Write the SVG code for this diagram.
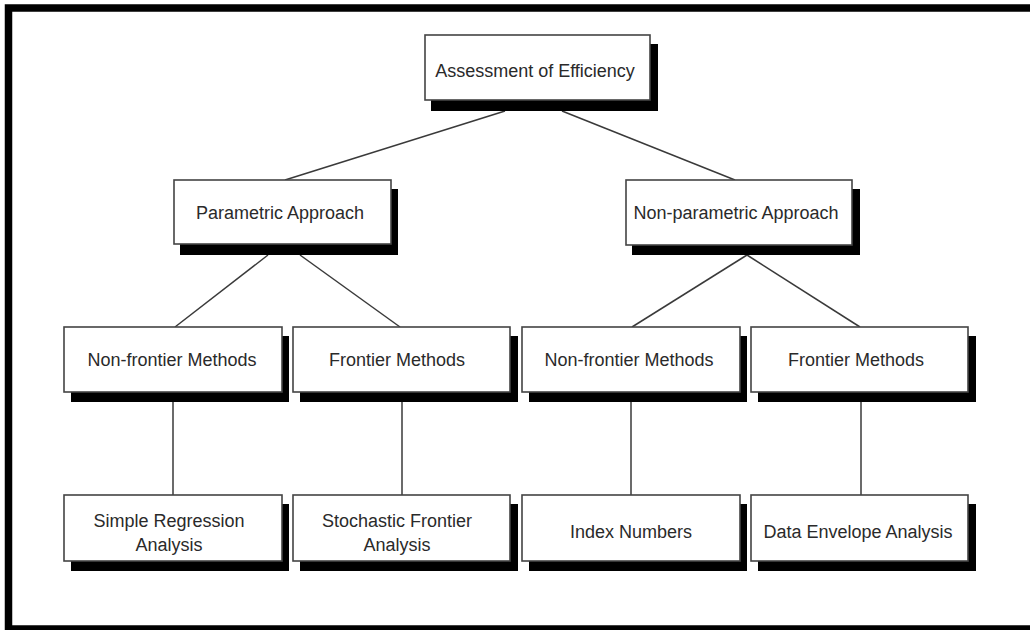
<svg xmlns="http://www.w3.org/2000/svg" width="1030" height="630" viewBox="0 0 1030 630">
<style>
.frame{fill:none;stroke:#000;stroke-width:7.5}
.shadow{fill:#000}
.box{fill:#fff;stroke:#444;stroke-width:1.6}
.lbl{font-family:"Liberation Sans",Arial,sans-serif;font-size:18px;fill:#2a2a2a;text-anchor:middle}
.conn line{stroke:#3a3a3a;stroke-width:1.5}
</style>
<rect width="1030" height="630" fill="#fff"/>
<rect class="frame" x="8.5" y="8" width="1100" height="621"/>
<g class="conn" id="connectors">
<line x1="505" y1="111" x2="285" y2="180"/>
<line x1="562" y1="111" x2="735" y2="180"/>
<line x1="268" y1="255" x2="175" y2="327"/>
<line x1="300" y1="255" x2="400" y2="327"/>
<line x1="747" y1="255" x2="632" y2="327"/>
<line x1="747" y1="255" x2="860" y2="327"/>
<line x1="173" y1="401" x2="173" y2="495"/>
<line x1="402" y1="401" x2="402" y2="495"/>
<line x1="631" y1="401" x2="631" y2="495"/>
<line x1="861" y1="401" x2="861" y2="495"/>
</g>
<g id="n-assessment">
<rect class="shadow" x="431" y="44" width="227" height="67"/>
<rect class="box" x="425" y="35" width="225" height="65"/>
<text class="lbl" x="535" y="77">Assessment of Efficiency</text>
</g>
<g id="n-parametric">
<rect class="shadow" x="180" y="189" width="218" height="66"/>
<rect class="box" x="174" y="180" width="217" height="64"/>
<text class="lbl" x="280" y="219">Parametric Approach</text>
</g>
<g id="n-nonparametric">
<rect class="shadow" x="632" y="189" width="228" height="66"/>
<rect class="box" x="626" y="180" width="226" height="65"/>
<text class="lbl" x="736" y="219">Non-parametric Approach</text>
</g>
<g id="n-nonfrontier1">
<rect class="shadow" x="71" y="336" width="218" height="66"/>
<rect class="box" x="64" y="327" width="218" height="65"/>
<text class="lbl" x="172" y="366">Non-frontier Methods</text>
</g>
<g id="n-frontier1">
<rect class="shadow" x="300" y="336" width="218" height="66"/>
<rect class="box" x="293" y="327" width="217" height="65"/>
<text class="lbl" x="397" y="366">Frontier Methods</text>
</g>
<g id="n-nonfrontier2">
<rect class="shadow" x="529" y="336" width="218" height="66"/>
<rect class="box" x="522" y="327" width="218" height="65"/>
<text class="lbl" x="629" y="366">Non-frontier Methods</text>
</g>
<g id="n-frontier2">
<rect class="shadow" x="758" y="336" width="218" height="66"/>
<rect class="box" x="751" y="327" width="217" height="65"/>
<text class="lbl" x="856" y="366">Frontier Methods</text>
</g>
<g id="n-simple">
<rect class="shadow" x="71" y="504" width="218" height="67"/>
<rect class="box" x="64" y="495" width="218" height="66"/>
<text class="lbl" x="169" y="527">Simple Regression</text>
<text class="lbl" x="169" y="551">Analysis</text>
</g>
<g id="n-stochastic">
<rect class="shadow" x="300" y="504" width="218" height="67"/>
<rect class="box" x="293" y="495" width="217" height="66"/>
<text class="lbl" x="397" y="527">Stochastic Frontier</text>
<text class="lbl" x="397" y="551">Analysis</text>
</g>
<g id="n-index">
<rect class="shadow" x="529" y="504" width="218" height="67"/>
<rect class="box" x="522" y="495" width="218" height="66"/>
<text class="lbl" x="631" y="538">Index Numbers</text>
</g>
<g id="n-dea">
<rect class="shadow" x="758" y="504" width="218" height="67"/>
<rect class="box" x="751" y="495" width="217" height="66"/>
<text class="lbl" x="858" y="538">Data Envelope Analysis</text>
</g>
</svg>
